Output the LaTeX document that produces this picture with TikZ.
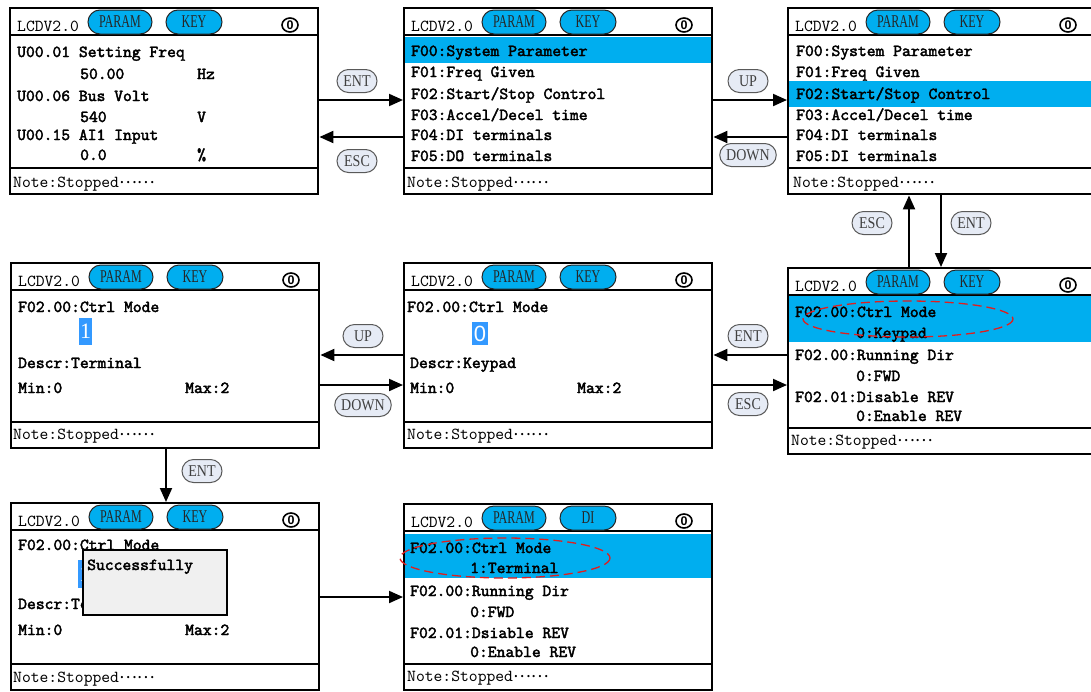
\documentclass[tikz,border=0pt]{standalone}
\usepackage{fontspec}
\usetikzlibrary{arrows.meta,shapes.misc,shapes.geometric}
\newfontfamily\lcdb[FakeBold=2.4]{lmmono10-regular.otf}
\newfontfamily\lcdr{lmmono10-regular.otf}
\newfontfamily\cjk{Noto Sans CJK SC}
\newfontfamily\pillf{Liberation Serif}
\newfontfamily\digs{Liberation Sans}
\newcommand\bt{\lcdb\fontsize{16.8}{18}\selectfont}
\newcommand\ft{\lcdr\fontsize{16.8}{18}\selectfont}
\newcommand\pf{\pillf\fontsize{18}{18}\selectfont}
\newcommand\lf{\pillf\fontsize{16.5}{16.5}\selectfont}
\newcommand\pl[1]{\scalebox{0.67}[1]{#1}}
\newcommand\keylab[1]{\scalebox{0.85}[1]{#1}}
\newcommand\nstop{Note:Stopped\raisebox{3.5pt}{\cjk\fontsize{16.8}{18}\selectfont ……}}
\definecolor{hlcyan}{RGB}{0,174,239}
\definecolor{digblue}{RGB}{51,153,255}
\definecolor{lblfill}{RGB}{230,235,245}
\definecolor{ovalred}{RGB}{225,30,30}
\tikzset{
  txt/.style={anchor=base west, inner sep=0pt, font=\bt},
  ftr/.style={anchor=base west, inner sep=0pt, font=\ft},
  panel/.style={draw, line width=2.4pt, minimum width=308pt, inner sep=0pt},
  sepline/.style={line width=2pt},
  hpill/.style={rounded rectangle, draw=black!85, fill=hlcyan, line width=1pt, minimum height=24pt, inner sep=0pt, font=\pf, text=black!85},
  lbl/.style={rounded rectangle, draw=black!65, fill=lblfill, line width=1pt, minimum height=23pt, minimum width=50pt, inner xsep=5pt, inner ysep=0pt, font=\lf, text=black!75},
  icon/.style={ellipse, draw, line width=1.6pt, minimum width=16pt, minimum height=14pt, inner sep=0pt, font=\digs\bfseries\fontsize{12.5}{12.5}\selectfont},
  dig/.style={fill=digblue, text=white, inner sep=0pt},
  arr/.style={line width=2pt, -{Triangle[length=14pt,width=12pt]}},
  oval/.style={draw=ovalred, line width=1.3pt, dash pattern=on 9pt off 5pt},
  hl/.style={fill=hlcyan},
  popup/.style={draw, line width=2.2pt, fill=black!6, inner sep=0pt, anchor=north west}
}
% #1 name, #2 L, #3 T, #4 H, #5 second pill text
\newcommand\lcdpanel[5]{%
  \node[panel, minimum height=#4pt, anchor=north west] (#1) at (#2,#3) {};
  \draw[sepline] (#2,#3+28) -- (#2+308,#3+28);
  \draw[sepline] (#2,#3+#4-25) -- (#2+308,#3+#4-25);
  \node[anchor=base west, inner sep=0pt, font=\ft] (#1-t) at (#2+8,#3+24) {LCDV2.0};
  \node[hpill, minimum width=64pt] (#1-a) at (#2+111,#3+15) {\pl{PARAM}};
  \node[hpill, minimum width=56pt] (#1-b) at (#2+185,#3+15) {\pl{#5}};
  \node[icon] (#1-i) at (#2+281,#3+18) {0};
}
\begin{document}
\begin{tikzpicture}[x=1pt,y=-1pt]
\useasboundingbox[fill=white] (0,0) rectangle (1091,691);
% highlight bars
\fill[hl] (403,37) rectangle (711,63);
\fill[hl] (787,81) rectangle (1095,107);
\fill[hl] (787,296) rectangle (1095,342);
\fill[hl] (403,534) rectangle (711,578);
% panels
\lcdpanel{p1}{9}{7}{186}{KEY}
\lcdpanel{p2}{403}{7}{186}{KEY}
\lcdpanel{p3}{787}{7}{186}{KEY}
\lcdpanel{p4}{10}{262}{185}{KEY}
\lcdpanel{p5}{403}{262}{185}{KEY}
\lcdpanel{p6}{787}{267}{186}{KEY}
\lcdpanel{p7}{10}{502}{187}{KEY}
\lcdpanel{p8}{403}{503}{186}{DI}
% panel 1
\node[txt] (p1l1) at (17,57) {U00.01 Setting Freq};
\node[txt] (p1v1) at (80,79) {50.00};
\node[txt] (p1u1) at (197,79) {Hz};
\node[txt] (p1l2) at (17,101) {U00.06 Bus Volt};
\node[txt] (p1v2) at (80,122) {540};
\node[txt] (p1u2) at (197,122) {V};
\node[txt] (p1l3) at (17,140) {U00.15 AI1 Input};
\node[txt] (p1v3) at (80,160) {0.0};
\node[txt] (p1u3) at (197,160) {\%};
\node[ftr] (p1n) at (13,187) {\nstop};
% panel 2
\node[txt] (p2l1) at (411,56) {F00:System Parameter};
\node[txt] (p2l2) at (411,77) {F01:Freq Given};
\node[txt] (p2l3) at (411,99) {F02:Start/Stop Control};
\node[txt] (p2l4) at (411,120) {F03:Accel/Decel time};
\node[txt] (p2l5) at (411,140) {F04:DI terminals};
\node[txt] (p2l6) at (411,161) {F05:DO terminals};
\node[ftr] (p2n) at (407,187) {\nstop};
% panel 3
\node[txt] (p3l1) at (796,56) {F00:System Parameter};
\node[txt] (p3l2) at (796,77) {F01:Freq Given};
\node[txt] (p3l3) at (796,99) {F02:Start/Stop Control};
\node[txt] (p3l4) at (796,120) {F03:Accel/Decel time};
\node[txt] (p3l5) at (796,140) {F04:DI terminals};
\node[txt] (p3l6) at (796,161) {F05:DI terminals};
\node[ftr] (p3n) at (793,187) {\nstop};
% panel 4
\node[txt] (p4l1) at (18,312) {F02.00:Ctrl Mode};
\node[dig, minimum width=13pt, minimum height=27pt, font=\pillf\fontsize{22}{22}\selectfont] (p4d) at (85.5,331.5) {1};
\node[txt] (p4l2) at (18,368) {Descr:Terminal};
\node[txt] (p4l3) at (18,393) {Min:0};
\node[txt] (p4l4) at (185,393) {Max:2};
\node[ftr] (p4n) at (13,439) {\nstop};
% panel 5
\node[txt] (p5l1) at (407,312) {F02.00:Ctrl Mode};
\node[dig, minimum width=16pt, minimum height=23pt, font=\digs\fontsize{22}{22}\selectfont] (p5d) at (480,333.5) {0};
\node[txt] (p5l2) at (410,368) {Descr:Keypad};
\node[txt] (p5l3) at (410,393) {Min:0};
\node[txt] (p5l4) at (577,393) {Max:2};
\node[ftr] (p5n) at (407,439) {\nstop};
% panel 6
\node[txt] (p6l1) at (795,317) {F02.00:Ctrl Mode};
\node[txt] (p6l2) at (856,338) {0:Keypad};
\node[txt] (p6l3) at (795,360) {F02.00:Running Dir};
\node[txt] (p6l4) at (856,381) {0:FWD};
\node[txt] (p6l5) at (795,402) {F02.01:Disable REV};
\node[txt] (p6l6) at (856,421) {0:Enable REV};
\node[ftr] (p6n) at (791,445) {\nstop};
\draw[oval] (908,319) ellipse [x radius=105, y radius=18];
% panel 7
\node[txt] (p7l1) at (18,550) {F02.00:Ctrl Mode};
\node[dig, minimum width=14pt, minimum height=28pt, font=\pillf\fontsize{22}{22}\selectfont] (p7d) at (84.5,574) {1};
\node[txt] (p7l2) at (18,609) {Descr:Terminal};
\node[txt] (p7l3) at (18,635) {Min:0};
\node[txt] (p7l4) at (185,635) {Max:2};
\node[ftr] (p7n) at (13,682) {\nstop};
\node[popup, minimum width=144pt, minimum height=65pt] (pop) at (82,549) {};
\node[txt] (popt) at (87,570) {Successfully};
% panel 8
\node[txt] (p8l1) at (410,553) {F02.00:Ctrl Mode};
\node[txt] (p8l2) at (470,573) {1:Terminal};
\node[txt] (p8l3) at (410,596) {F02.00:Running Dir};
\node[txt] (p8l4) at (470,617) {0:FWD};
\node[txt] (p8l5) at (410,638) {F02.01:Dsiable REV};
\node[txt] (p8l6) at (470,657) {0:Enable REV};
\node[ftr] (p8n) at (407,681) {\nstop};
\draw[oval] (505,558) ellipse [x radius=105, y radius=20];
% connectors
\draw[arr] (p1.east |- 0,100) -- (p2.west |- 0,100);
\draw[arr] (p2.west |- 0,137) -- (p1.east |- 0,137);
\draw[arr] (p2.east |- 0,100) -- (p3.west |- 0,100);
\draw[arr] (p3.west |- 0,137) -- (p2.east |- 0,137);
\draw[arr] (p6.north -| 909,0) -- (p3.south -| 909,0);
\draw[arr] (p3.south -| 941,0) -- (p6.north -| 941,0);
\draw[arr] (p6.west |- 0,355) -- (p5.east |- 0,355);
\draw[arr] (p5.east |- 0,385) -- (p6.west |- 0,385);
\draw[arr] (p5.west |- 0,355) -- (p4.east |- 0,355);
\draw[arr] (p4.east |- 0,385) -- (p5.west |- 0,385);
\draw[arr] (p4.south -| 166,0) -- (p7.north -| 166,0);
\draw[arr] (p7.east |- 0,597) -- (p8.west |- 0,597);
% key labels
\node[lbl] (k1) at (357,81) {\keylab{ENT}};
\node[lbl] (k2) at (357,161) {\keylab{ESC}};
\node[lbl] (k3) at (748,81) {\keylab{UP}};
\node[lbl] (k4) at (748,155) {\keylab{DOWN}};
\node[lbl] (k5) at (872,223) {\keylab{ESC}};
\node[lbl] (k6) at (971,223) {\keylab{ENT}};
\node[lbl] (k7) at (748,336) {\keylab{ENT}};
\node[lbl] (k8) at (748,404) {\keylab{ESC}};
\node[lbl] (k9) at (363,336) {\keylab{UP}};
\node[lbl] (k10) at (363,405) {\keylab{DOWN}};
\node[lbl] (k11) at (202,471) {\keylab{ENT}};
\end{tikzpicture}
\end{document}
